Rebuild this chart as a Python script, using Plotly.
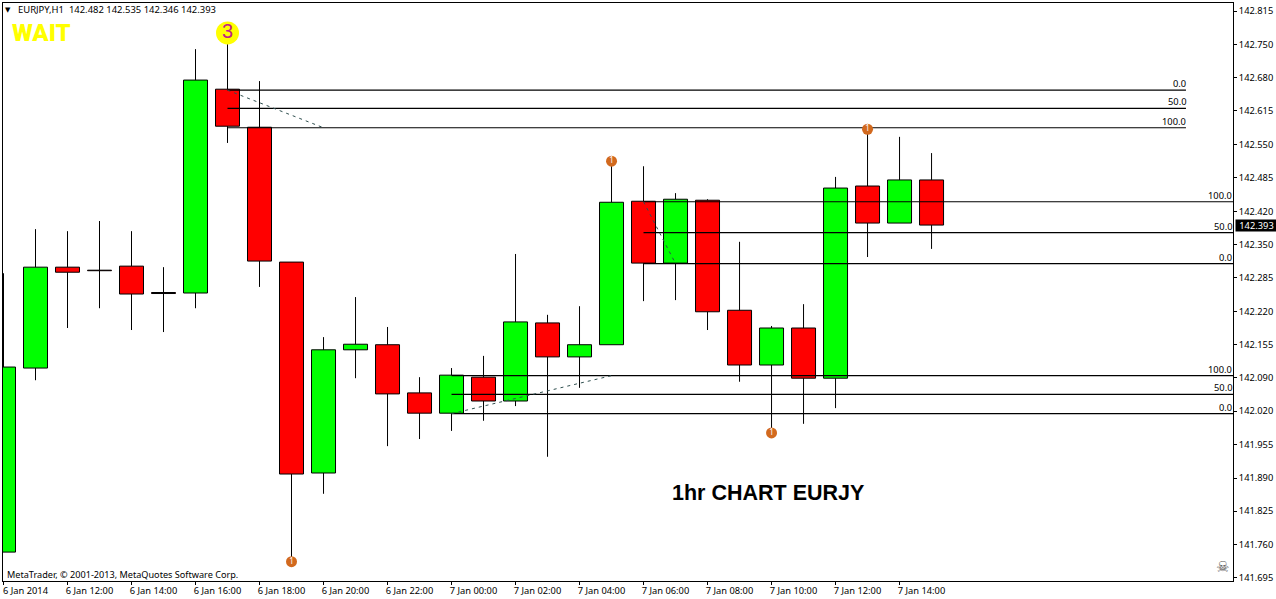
import pandas as pd
import plotly.graph_objects as go

symbol_text = "EURJPY,H1&nbsp; 142.482 142.535 142.346 142.393"
start = "2014-01-06 10:00"
opens = [141.748,142.111,142.310,142.304,142.312,142.260,142.259,142.661,142.586,142.320,
         141.904,142.147,142.157,142.062,142.022,142.093,142.046,142.200,142.133,142.157,
         142.440,142.318,142.442,142.225,142.117,142.190,142.091,142.470,142.397,142.482]
highs = [142.298,142.385,142.381,142.401,142.381,142.310,142.740,142.750,142.677,142.320,
         142.172,142.251,142.192,142.093,142.111,142.135,142.336,142.216,142.233,142.521,
         142.509,142.456,142.444,142.360,142.194,142.237,142.488,142.582,142.567,142.535]
lows = [141.748,142.087,142.190,142.229,142.186,142.182,142.229,142.555,142.271,141.729,
        141.863,142.091,141.957,141.971,141.987,142.007,142.036,141.936,142.072,142.157,
        142.243,142.245,142.186,142.084,141.985,142.001,142.032,142.330,142.397,142.346]
closes = [142.113,142.310,142.300,142.303,142.257,142.258,142.679,142.588,142.322,141.902,
          142.147,142.158,142.060,142.022,142.097,142.046,142.202,142.133,142.157,142.438,
          142.318,142.444,142.222,142.117,142.190,142.091,142.466,142.397,142.482,142.393]
tick_values = [141.697,141.763,141.829,141.894,141.960,142.026,142.092,142.157,142.223,
               142.289,142.355,142.420,142.486,142.552,142.618,142.684,142.749,142.815]
tick_labels = ["141.695","141.760","141.825","141.890","141.955","142.020","142.090","142.155","142.220",
               "142.285","142.350","142.420","142.485","142.550","142.615","142.680","142.750","142.815"]
x_tick_labels = ["6 Jan 2014","6 Jan 12:00","6 Jan 14:00","6 Jan 16:00","6 Jan 18:00","6 Jan 20:00",
                 "6 Jan 22:00","7 Jan 00:00","7 Jan 02:00","7 Jan 04:00","7 Jan 06:00","7 Jan 08:00",
                 "7 Jan 10:00","7 Jan 12:00","7 Jan 14:00"]
fibo_a_levels = [142.659,142.623,142.585]
fibo_a_labels = ["0.0","50.0","100.0"]
fibo_b_levels = [142.439,142.378,142.317]
fibo_b_labels = ["100.0","50.0","0.0"]
fibo_c_levels = [142.096,142.059,142.021]
fibo_c_labels = ["100.0","50.0","0.0"]
arrow_idx = [9,19,24,27]
arrow_prices = [141.729,142.519,141.983,142.582]
last_price = 142.393

times = pd.date_range(start, periods=len(opens), freq="h")
x_ticks = pd.date_range(start, periods=len(x_tick_labels), freq="2h")
x_min = times[0] - pd.Timedelta(hours=0.5/32)
x_max = times[0] + pd.Timedelta(hours=38.42)
fibo_a_end = times[0] + pd.Timedelta(hours=36.95)
fibo_edge = times[0] + pd.Timedelta(hours=38.4)

FONT = "Noto Sans"
FS = 9.3
fig = go.Figure()

wick_x, wick_y = [], []
for t, o, h, l, c in zip(times, opens, highs, lows, closes):
    wick_x += [t, t, None, t, t, None]
    wick_y += [h, max(o, c), None, min(o, c), l, None]
fig.add_trace(go.Scatter(x=wick_x, y=wick_y, mode="lines", line=dict(color="black", width=1),
                         showlegend=False, hoverinfo="skip"))
fig.add_trace(go.Bar(
    x=times, y=[abs(c - o) for o, c in zip(opens, closes)], base=[min(o, c) for o, c in zip(opens, closes)],
    width=2700000, marker=dict(color=["#00ff00" if c >= o else "#ff0000" for o, c in zip(opens, closes)],
                               line=dict(color="black", width=1)),
    showlegend=False, hoverinfo="skip"))

def hline(x0, x1, level):
    fig.add_trace(go.Scatter(x=[x0, x1], y=[level, level], mode="lines",
                             line=dict(color="black", width=1.2), showlegend=False, hoverinfo="skip"))

def dash(i0, p0, i1, p1):
    fig.add_trace(go.Scatter(x=[times[i0], times[i1]], y=[p0, p1], mode="lines",
                             line=dict(color="#2f4f4f", width=1, dash="3px 4px"), showlegend=False, hoverinfo="skip"))

anns = []
def level_label(x, level, text):
    anns.append(dict(x=x, y=level, xref="x", yref="y", text=text, showarrow=False, xanchor="right",
                     yanchor="bottom", yshift=0, font=dict(family=FONT, size=FS, color="black"), borderpad=0, borderwidth=0))

for lv, lb in zip(fibo_a_levels, fibo_a_labels):
    hline(times[7], fibo_a_end, lv); level_label(fibo_a_end, lv, lb)
for lv, lb in zip(fibo_b_levels, fibo_b_labels):
    hline(times[20], x_max, lv); level_label(fibo_edge, lv, lb)
for lv, lb in zip(fibo_c_levels, fibo_c_labels):
    hline(times[14], x_max, lv); level_label(fibo_edge, lv, lb)

dash(7, fibo_a_levels[0], 10, fibo_a_levels[2])
dash(20, fibo_b_levels[0], 21, fibo_b_levels[2])
dash(14, fibo_c_levels[2], 19, fibo_c_levels[0])

fig.add_trace(go.Scatter(x=[times[i] for i in arrow_idx], y=arrow_prices, mode="markers+text",
                         text=["1"] * len(arrow_idx), textposition="middle center",
                         textfont=dict(family=FONT, size=8, color="white"),
                         marker=dict(size=11, color="#d2691e"), showlegend=False, hoverinfo="skip"))
fig.add_trace(go.Scatter(x=[times[7]], y=[142.772], mode="markers+text", text=["3"],
                         textposition="middle center",
                         textfont=dict(family="Liberation Sans", size=20, color="#c0208a"),
                         marker=dict(size=23, color="#ffff00"), showlegend=False, hoverinfo="skip"))

def px(x): return (x - 3) / 1230
def py(y): return (581 - y) / 578

def note(x, y, text, size, color="black", family=FONT, anchor="left", weight=None):
    f = dict(family=family, size=size, color=color)
    if weight:
        f["weight"] = weight
    anns.append(dict(x=px(x), y=py(y), xref="paper", yref="paper", text=text, showarrow=False,
                     xanchor=anchor, yanchor="middle", font=f))

note(16, 10, symbol_text, 9.45)
note(3, 10, "▼", 7, family="DejaVu Sans")
note(10, 33, "WAIT", 24, "#ffff00", "Roboto", weight=900)
note(670, 493, "<b>1hr CHART EURJY</b>", 21.5, "black", "Liberation Sans")
note(5, 574, "MetaTrader, © 2001-2013, MetaQuotes Software Corp.", 9.15)
note(1222, 567, "☠", 15, "#555555", "DejaVu Sans", "center")

anns.append(dict(x=1.0016, y=last_price, xref="paper", yref="y", text="142.393", showarrow=False,
                 xanchor="left", yanchor="middle", bgcolor="black", borderpad=0,
                 font=dict(family=FONT, size=FS, color="white"), width=41, height=11))

fig.update_layout(
    width=1276, height=599, margin=dict(l=3, r=43, t=3, b=18),
    paper_bgcolor="white", plot_bgcolor="white", annotations=anns, showlegend=False,
    font=dict(family=FONT, size=FS, color="black"),
    xaxis=dict(range=[x_min, x_max], tickmode="array", tickvals=x_ticks, ticktext=x_tick_labels,
               ticks="outside", ticklen=3, tickcolor="black", showgrid=False, zeroline=False, automargin=False,
               showline=True, linecolor="black", linewidth=1, mirror=True,
               tickangle=0, ticklabelshift=22, ticklabelstandoff=-2, tickfont=dict(family=FONT, size=FS)),
    yaxis=dict(range=[141.691, 142.831], side="right", tickmode="array", tickvals=tick_values, ticktext=tick_labels,
               ticks="outside", ticklen=3, tickcolor="black", showgrid=False, zeroline=False, automargin=False,
               showline=True, linecolor="black", linewidth=1, mirror=True, tickfont=dict(family=FONT, size=FS)),
)
fig.write_html("out.html", config=dict(displayModeBar=False), post_script="document.body.style.margin='0';")
